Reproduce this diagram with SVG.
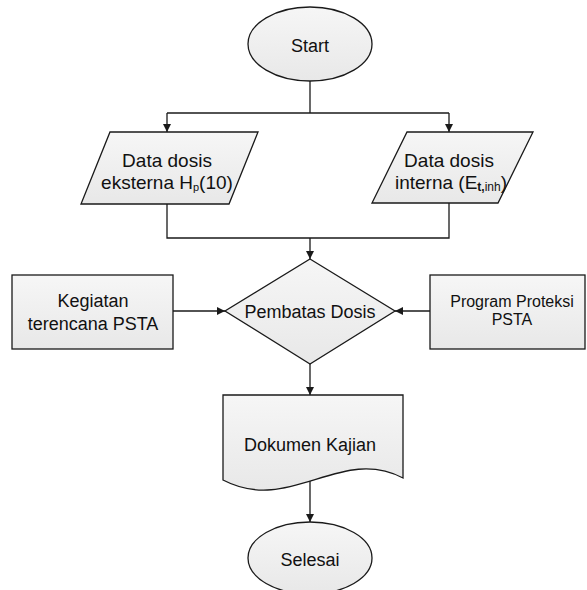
<svg xmlns="http://www.w3.org/2000/svg" width="587" height="590" viewBox="0 0 587 590">
<style>
.shape{fill:url(#g);stroke:#1a1a1a;stroke-width:1.3}
.line{fill:none;stroke:#1a1a1a;stroke-width:1.3}
text{font-family:"Liberation Sans",Arial,sans-serif;font-size:18px;fill:#111;text-anchor:middle}
.sm{font-size:16px}
.md{font-size:19px}
</style>
<defs>
<linearGradient id="g" x1="0" y1="0" x2="0" y2="1">
<stop offset="0" stop-color="#f6f6f6"/>
<stop offset="1" stop-color="#e8e8e8"/>
</linearGradient>
<marker id="arr" viewBox="0 0 10 10" refX="10" refY="5" markerWidth="8" markerHeight="8" markerUnits="userSpaceOnUse" orient="auto">
<path d="M0,0 L10,5 L0,10 z" fill="#1a1a1a"/>
</marker>
</defs>
<rect width="587" height="590" fill="#fff"/>
<g id="connectors">
<path class="line" d="M310,81 V113"/>
<path class="line" d="M167,113 H449"/>
<path class="line" d="M167,113 V132" marker-end="url(#arr)"/>
<path class="line" d="M449,113 V132" marker-end="url(#arr)"/>
<path class="line" d="M167,204 V238 H449 V203"/>
<path class="line" d="M310,238 V259" marker-end="url(#arr)"/>
<path class="line" d="M173,311 H225" marker-end="url(#arr)"/>
<path class="line" d="M430,311 H395" marker-end="url(#arr)"/>
<path class="line" d="M310,364 V395" marker-end="url(#arr)"/>
<path class="line" d="M310,480 V522" marker-end="url(#arr)"/>
</g>
<g id="start">
<ellipse class="shape" cx="310" cy="44" rx="62" ry="37"/>
<text x="310" y="52">Start</text>
</g>
<g id="data-eksterna">
<polygon class="shape" points="110,132 258,132 229,204 81,204"/>
<text class="md" x="167" y="167">Data dosis</text>
<text class="md" x="167" y="189">eksterna H<tspan font-size="11" dy="2">p</tspan><tspan dy="-2">(10)</tspan></text>
</g>
<g id="data-interna">
<polygon class="shape" points="407,132 533,132 498,203 372,203"/>
<text class="md" x="449" y="167">Data dosis</text>
<text class="md" x="451" y="189">interna (E<tspan font-size="12" font-weight="bold" dy="2">t,</tspan><tspan font-size="12">inh</tspan><tspan dy="-2">)</tspan></text>
</g>
<g id="kegiatan">
<rect class="shape" x="12" y="275" width="161" height="74"/>
<text x="93" y="307">Kegiatan</text>
<text x="93" y="330">terencana PSTA</text>
</g>
<g id="program">
<rect class="shape" x="430" y="275" width="155" height="74"/>
<text class="sm" x="512" y="307">Program Proteksi</text>
<text class="sm" x="512" y="325">PSTA</text>
</g>
<g id="pembatas">
<polygon class="shape" points="310,259 395,311 310,364 225,311"/>
<text x="310" y="318">Pembatas Dosis</text>
</g>
<g id="dokumen">
<path class="shape" d="M223,395 H403 V478 C340,445 290,515 223,480 Z"/>
<text x="310" y="451">Dokumen Kajian</text>
</g>
<g id="selesai">
<ellipse class="shape" cx="310" cy="558" rx="62" ry="36"/>
<text x="310" y="566">Selesai</text>
</g>
</svg>
